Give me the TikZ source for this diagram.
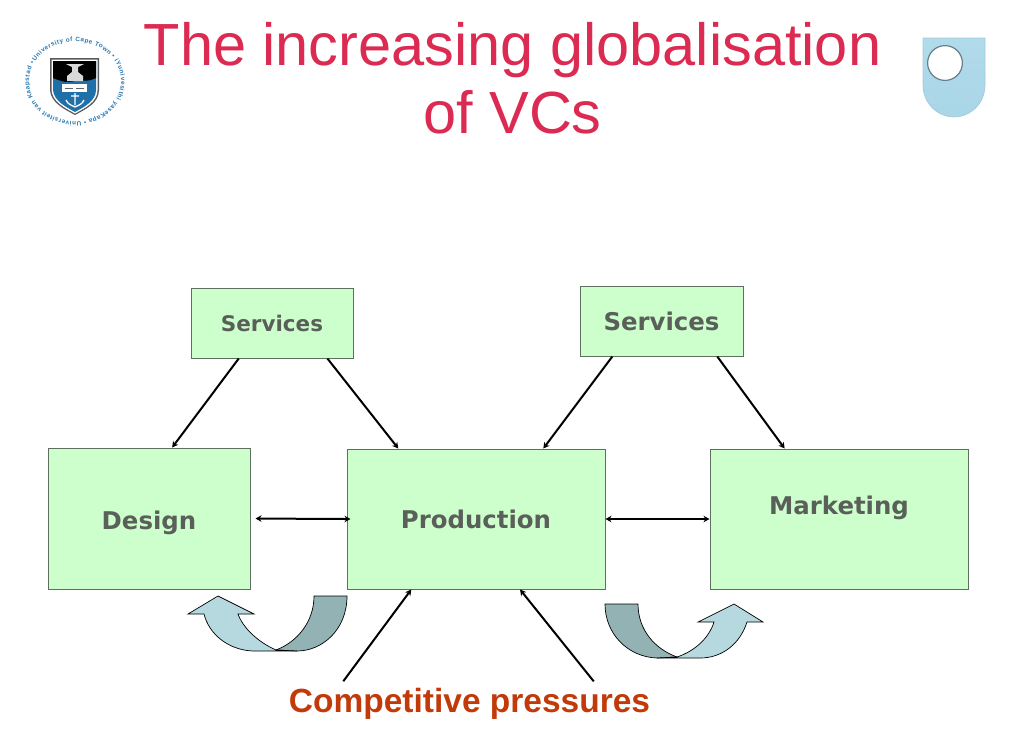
\documentclass[tikz,border=0pt]{standalone}
\usepackage{fontspec}
\setmainfont{Liberation Sans}
\newfontfamily\labelfont[BoldFont={DejaVu Sans Bold}]{DejaVu Sans}
\usetikzlibrary{calc,arrows.meta,decorations.text}
\definecolor{boxgreen}{HTML}{CCFFCC}
\definecolor{boxedge}{HTML}{5F6F5F}
\definecolor{labelgray}{HTML}{5A5F5A}
\definecolor{titlered}{HTML}{DC2B52}
\definecolor{pressred}{HTML}{C23A0A}
\definecolor{arrowlight}{HTML}{B5D9DF}
\definecolor{arrowdark}{HTML}{93B2B4}
\definecolor{capeblue}{HTML}{2A78B0}
\definecolor{shieldblue}{HTML}{1F6FA8}
\definecolor{oublue}{HTML}{A9D6E8}
\tikzset{
  stagebox/.style={draw=boxedge,fill=boxgreen,line width=1pt,inner sep=0pt,text=labelgray,font=\fontsize{24.4}{24.4}\labelfont\bfseries},
  link/.style={line width=2pt,-{Stealth[length=6pt,width=6.5pt]}},
  twoway/.style={line width=2pt,{Stealth[length=6pt,width=6.5pt]}-{Stealth[length=6pt,width=6.5pt]}},
  swoosh/.style={draw=black,line width=.7pt,line join=miter}
}
\begin{document}
\begin{tikzpicture}[x=1pt,y=-1pt]
\useasboundingbox (0,0) rectangle (1024,740);
\node[text=titlered,align=center,font=\fontsize{59.5}{68}\selectfont] (title) at (512.5,78.7) {The increasing globalisation\\of VCs};
\node[stagebox,minimum width=162pt,minimum height=70pt,font=\fontsize{21.5}{21.5}\labelfont\bfseries] (servA) at (272,323) {Services};
\node[stagebox,minimum width=163pt,minimum height=70pt] (servB) at (661.5,321) {Services};
\node[stagebox,minimum width=202pt,minimum height=141pt] (design) at (149,518.5) {\raisebox{-10.5pt}[0pt][0pt]{Design}};
\node[stagebox,minimum width=258pt,minimum height=140pt] (prod) at (476,519) {Production};
\node[stagebox,minimum width=258pt,minimum height=140pt] (market) at (839,519) {\raisebox{5pt}[0pt][0pt]{Marketing}};
\node[text=pressred,font=\fontsize{33.5}{33.5}\selectfont\bfseries] (press) at (469.5,704) {Competitive pressures};
\draw[link] ($(servA.south west)!.296!(servA.south east)$)--($(design.north west)!.614!(design.north east)$);
\draw[link] ($(servA.south west)!.84!(servA.south east)$)--($(prod.north west)!.2!(prod.north east)$);
\draw[link] ($(servB.south west)!.2!(servB.south east)$)--($(prod.north west)!.76!(prod.north east)$);
\draw[link] ($(servB.south west)!.84!(servB.south east)$)--($(market.north west)!.29!(market.north east)$);
\draw[twoway,shorten <=5pt,shorten >=-4pt] (design.east)--(prod.west);
\draw[twoway] (prod.east)--(market.west);
\draw[link,shorten <=4.5pt] ($(press.north west)!.15!(press.north east)$)--($(prod.south west)!.25!(prod.south east)$);
\draw[link,shorten <=4.5pt] ($(press.north west)!.845!(press.north east)$)--($(prod.south west)!.67!(prod.south east)$);
\draw[swoosh,fill=arrowdark] (314,596)--(347,596) .. controls (347,630) and (322,651) .. (297,651)--(276,650) .. controls (297,642) and (314,622) .. (314,596)--cycle;
\draw[swoosh,fill=arrowlight] (218,596)--(254,614)--(238,614) .. controls (243,628) and (258,642) .. (276,650)--(297,651)--(253,651) .. controls (228,650) and (209,634) .. (204,614)--(188,614)--cycle;
\draw[swoosh,fill=arrowdark] (605,604)--(638,604) .. controls (638,630) and (655,649) .. (677,657)--(657,658) .. controls (628,657) and (605,634) .. (605,604)--cycle;
\draw[swoosh,fill=arrowlight] (734,604)--(763,622)--(747,622) .. controls (740,644) and (722,658) .. (700,658)--(657,658)--(677,657) .. controls (695,651) and (709,638) .. (714,622)--(698,622)--cycle;
\path[decorate,decoration={text along path,text align={fit to path},text color=capeblue,text={|\fontsize{6.3}{6.3}\selectfont\bfseries|University of Cape Town • iYunivesithi yaseKapa • Universiteit van Kaapstad • }}] (75,81.5) ++(-150:46 and 40) arc[start angle=-150,end angle=208,x radius=46,y radius=40];
\fill[black!65] (50,58)--(99,58)--(99,90) .. controls (99,103) and (86,109) .. (75,115) .. controls (64,109) and (51,103) .. (50,90)--cycle;
\fill[white] (51.5,59.5)--(97.5,59.5)--(97.5,90) .. controls (97.5,102) and (85,108) .. (75,113.5) .. controls (65,108) and (52.5,102) .. (51.5,90)--cycle;
\fill[shieldblue] (53,61)--(96,61)--(96,90) .. controls (96,101) and (84,107) .. (75,112) .. controls (66,107) and (54,101) .. (53,90)--cycle;
\fill[black] (53,61)--(96,61)--(96,78) .. controls (85,83) and (83,79) .. (75,81) .. controls (67,83) and (63,82) .. (53,78)--cycle;
\fill[white!70!gray] (66,64)--(84,64)--(78,67)--(78,72)--(83,76)--(83,81)--(67,81)--(67,76)--(72,72)--(72,67)--cycle;
\fill[white] (62,84)--(87,84)--(87,92)--(62,92)--cycle;
\draw[black!60,line width=.5pt] (65,88)--(73,88) (76,88)--(84,88);
\draw[white,line width=1.3pt] (75,93)--(75,105) (66,100) .. controls (68,105) and (72,105) .. (75,107) .. controls (78,105) and (82,105) .. (84,100) (71,96)--(79,96);
\shade[top color=oublue!90!white,middle color=oublue!55!white,bottom color=oublue,draw=oublue!85!gray,line width=.6pt] (923,38)--(985,38)--(985,85) .. controls (985,104) and (970,117) .. (954,117) .. controls (938,117) and (923,104) .. (923,85)--cycle;
\draw[fill=white,draw=black!40!oublue,line width=1.2pt] (945,63) circle[radius=17.4];
\end{tikzpicture}
\end{document}
